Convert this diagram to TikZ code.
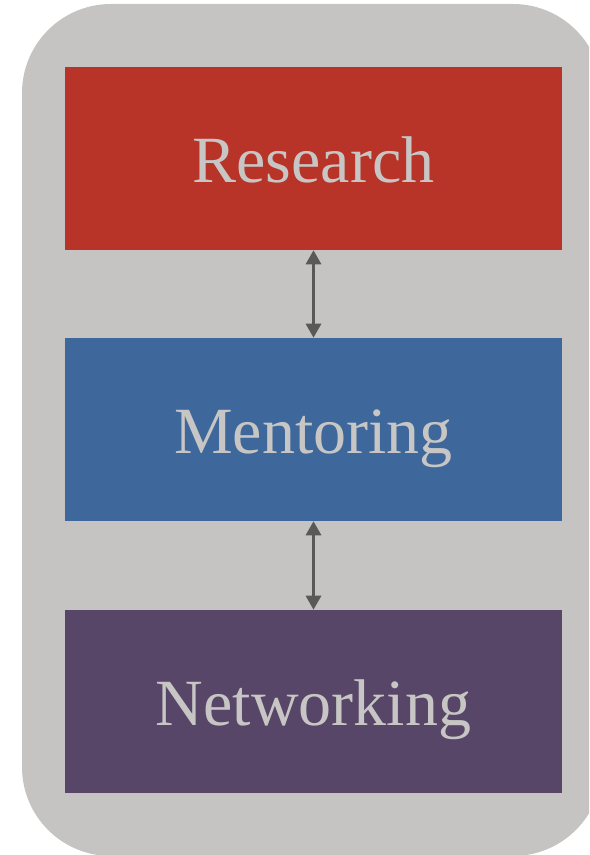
\documentclass[tikz,border=0pt]{standalone}
\usepackage{fontspec}
\setmainfont{Liberation Serif}
\usetikzlibrary{arrows.meta}
\definecolor{bggray}{HTML}{C5C4C2}
\definecolor{resred}{HTML}{B83328}
\definecolor{menblue}{HTML}{3E679B}
\definecolor{netpurple}{HTML}{574668}
\definecolor{txtgray}{HTML}{C8C6C4}
\definecolor{arrgray}{HTML}{595959}
\begin{document}
\begin{tikzpicture}[x=0.75pt,y=-0.75pt,
  block/.style={fill=#1, draw=none, minimum width=372.75pt, minimum height=137.25pt,
    inner sep=0pt, text height=36.4pt, text depth=0pt, text=txtgray,
    font=\fontsize{49.5}{55}\selectfont},
  link/.style={draw=arrgray, line width=2.25pt,
    {Triangle[length=10.5pt,width=11.25pt]}-{Triangle[length=10.5pt,width=11.25pt]}}]
\useasboundingbox (0,0) rectangle (589,855);
\clip (0,0) rectangle (589,855);
\fill[bggray, rounded corners=66.75pt] (22,4) rectangle (602,856);
\node[block=resred] (research) at (313.5,158.5) {Research};
\node[block=menblue] (mentoring) at (313.5,429.5) {Mentoring};
\node[block=netpurple] (networking) at (313.5,701.5) {Networking};
\draw[link] (research.south) -- (mentoring.north);
\draw[link] (mentoring.south) -- (networking.north);
\end{tikzpicture}
\end{document}
